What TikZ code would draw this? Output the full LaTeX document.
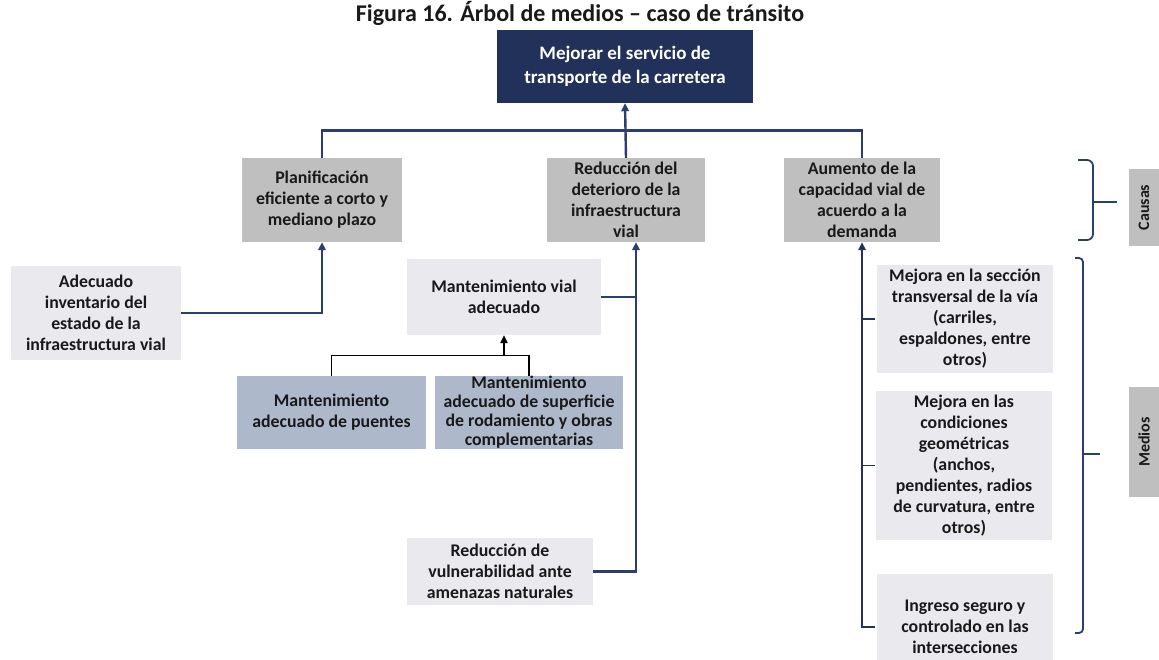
\documentclass[tikz,border=0pt]{standalone}
\usepackage{fontspec}
\setmainfont{Carlito}
\usepackage{tikz}
\usetikzlibrary{arrows.meta, calc}
\usepackage{xcolor}
\definecolor{navyfill}{RGB}{34,49,89}
\definecolor{navyline}{RGB}{44,62,107}
\definecolor{causagray}{RGB}{191,191,191}
\definecolor{mediogray}{RGB}{234,233,238}
\definecolor{bluegray}{RGB}{173,185,202}
\definecolor{textgray}{RGB}{25,25,25}

\begin{document}
\begin{tikzpicture}[x=1pt, y=-1pt,
    caja/.style={inner sep=0pt, align=center, text=textgray, font=\fontsize{17.8}{21}\selectfont\bfseries},
    causa/.style={caja, fill=causagray},
    medio/.style={caja, fill=mediogray},
    submedio/.style={caja, fill=bluegray},
    etiqueta/.style={caja, fill=causagray, rotate=90, minimum height=30, font=\fontsize{16}{19}\selectfont\bfseries},
    enlace/.style={draw=navyline, line width=2.4pt},
    rama/.style={draw=navyline!80!black, line width=1.6pt},
    fino/.style={draw=black, line width=1.3pt},
    llave/.style={draw=navyline, line width=1.8pt},
    flecha/.style={-{Triangle[length=8pt,width=7.5pt]}}]
    \useasboundingbox (0,0) rectangle (1159,659);
    \node[font=\fontsize{24}{26}\selectfont\bfseries, text=textgray] (titulo) at (580,13) {Figura 16. Árbol de medios – caso de tránsito};
    \node[caja, fill=navyfill, text=white, minimum width=256, minimum height=73, font=\fontsize{19}{24}\selectfont\bfseries] (meta) at (625,66.5) {Mejorar el servicio de\\transporte de la carretera};
    \node[causa, minimum width=160, minimum height=84] (plan) at (322,200) {Planificación\\eficiente a corto y\\mediano plazo};
    \node[causa, minimum width=158, minimum height=84] (reduc) at (626,200) {Reducción del\\deterioro de la\\infraestructura\\vial};
    \node[causa, minimum width=156, minimum height=84] (aumento) at (862,200) {Aumento de la\\capacidad vial de\\acuerdo a la\\demanda};
    \node[medio, minimum width=170, minimum height=94] (inventario) at (96,313) {Adecuado\\inventario del\\estado de la\\infraestructura vial};
    \node[medio, minimum width=194, minimum height=76] (mantvial) at (504,297) {Mantenimiento vial\\adecuado};
    \node[submedio, minimum width=189, minimum height=73] (puentes) at (331.5,412.5) {Mantenimiento\\adecuado de puentes};
    \node[submedio, minimum width=188, minimum height=73, font=\fontsize{17.8}{19}\selectfont\bfseries] (superficie) at (529,412.5) {Mantenimiento\\adecuado de superficie\\de rodamiento y obras\\complementarias};
    \node[medio, minimum width=186, minimum height=67] (vulnerab) at (500,571.5) {Reducción de\\vulnerabilidad ante\\amenazas naturales};
    \node[medio, minimum width=176, minimum height=108] (seccion) at (965,319) {Mejora en la sección\\transversal de la vía\\(carriles,\\espaldones, entre\\otros)};
    \node[medio, minimum width=176, minimum height=149] (geom) at (964,465.5) {Mejora en las\\condiciones\\geométricas\\(anchos,\\pendientes, radios\\de curvatura, entre\\otros)};
    \node[medio, minimum width=176, minimum height=106] (ingreso) at (965,627) {Ingreso seguro y\\controlado en las\\intersecciones};
    \node[etiqueta, minimum width=77] (causas) at (1144,207.5) {Causas};
    \node[etiqueta, minimum width=110] (medios) at (1144,442) {Medios};

    \coordinate (bus) at ($(meta.south)!0.5!(reduc.north)$);
    \coordinate (rb) at ([xshift=10pt]reduc.south);
    \coordinate (sub) at ($(mantvial.south)!0.5!(puentes.north)$);
    \draw[enlace, flecha] (reduc.north) -- (meta.south);
    \draw[enlace] (plan.north) |- (bus) -| (aumento.north);
    \draw[enlace, flecha] (inventario.east) -| (plan.south);
    \draw[enlace, flecha] (vulnerab.east) -| (rb);
    \draw[enlace] (mantvial.east) -- (mantvial.east -| rb);
    \draw[fino] (puentes.north) |- (sub) -| (superficie.north);
    \draw[fino, flecha] (sub -| mantvial.south) -- (mantvial.south);
    \draw[rama, flecha] ([xshift=-2pt]ingreso.west) -| (aumento.south);
    \draw[rama] ([xshift=-2pt]seccion.west) -- (seccion.west -| aumento.south);
    \draw[rama] ([xshift=-1pt]geom.west) -- (geom.west -| aumento.south);

    \draw[llave, rounded corners=6pt] (1078,160) -- (1093,160) -- (1093,240) -- (1078,240);
    \draw[llave] (1093,202) -- (1117,202);
    \draw[llave, rounded corners=4pt] (1075,258) -- (1083,258) -- (1083,633) -- (1075,633);
    \draw[llave] (1083,454) -- (1100,454);
\end{tikzpicture}
\end{document}
